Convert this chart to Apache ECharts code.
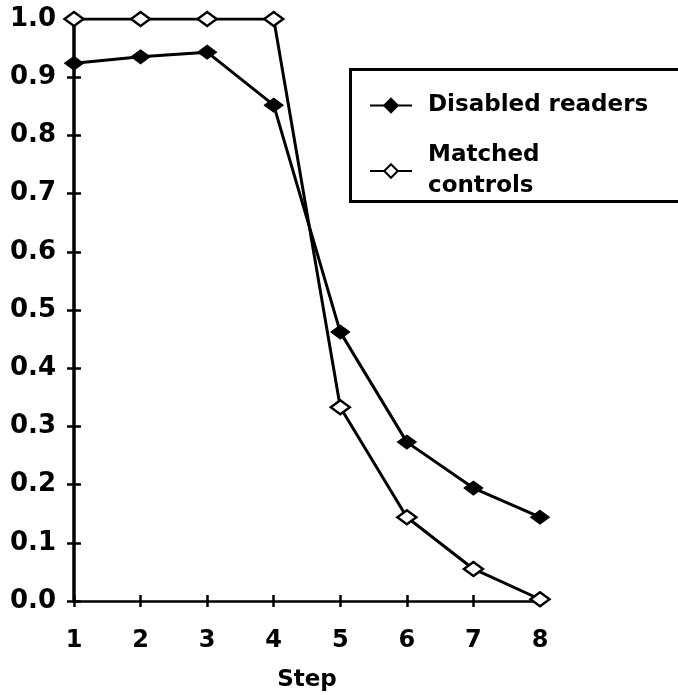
<!DOCTYPE html>
<html>
<head>
<meta charset="utf-8">
<script src="https://cdn.jsdelivr.net/npm/echarts@6/dist/echarts.min.js"></script>
<style>
html,body{margin:0;padding:0;background:#fff;}
#chart{width:678px;height:695px;}
</style>
</head>
<body>
<div id="chart"></div>
<script>
var steps = [1, 2, 3, 4, 5, 6, 7, 8];
var disabledReaders = [0.924, 0.935, 0.943, 0.852, 0.462, 0.273, 0.194, 0.144];
var matchedControls = [1.0, 1.0, 1.0, 1.0, 0.333, 0.144, 0.055, 0.003];
var seriesNames = ['Disabled readers', 'Matched controls'];
var xAxisTitle = 'Step';

function pairs(vals) {
  return steps.map(function (s, i) { return [s, vals[i]]; });
}

var font = '"DejaVu Sans", sans-serif';
var chart = echarts.init(document.getElementById('chart'));
var option = {
  backgroundColor: '#fff',
  animation: false,
  grid: { left: 74, right: 138, top: 19, bottom: 94, containLabel: false, outerBoundsMode: 'none' },
  xAxis: [{
    type: 'value', min: 1, max: 8, interval: 1,
    name: xAxisTitle, nameLocation: 'middle', nameGap: 68,
    nameTextStyle: { color: '#000', fontFamily: font, fontWeight: 'bold', fontSize: 23 },
    axisLine: { show: true, onZero: false, lineStyle: { color: '#000', width: 2.5 } },
    axisTick: { show: true, length: 6, lineStyle: { color: '#000', width: 2.5 } },
    axisLabel: { color: '#000', fontFamily: font, fontWeight: 'bold', fontSize: 24, margin: 28 },
    splitLine: { show: false }
  }, {
    type: 'value', min: 1, max: 8, interval: 1, position: 'bottom',
    axisLine: { show: false },
    axisTick: { show: true, inside: true, length: 6, lineStyle: { color: '#000', width: 2.5 } },
    axisLabel: { show: false },
    splitLine: { show: false }
  }],
  yAxis: [{
    type: 'value', min: 0, max: 1, interval: 0.1,
    axisLine: { show: true, onZero: false, lineStyle: { color: '#000', width: 3.5 } },
    axisTick: { show: true, length: 7, lineStyle: { color: '#000', width: 2.5 } },
    axisLabel: {
      color: '#000', fontFamily: font, fontWeight: 'bold', fontSize: 26, margin: 18,
      formatter: function (v) { return v.toFixed(1); }
    },
    splitLine: { show: false }
  }, {
    type: 'value', min: 0, max: 1, interval: 0.1, position: 'left',
    axisLine: { show: false },
    axisTick: { show: true, inside: true, length: 7, lineStyle: { color: '#000', width: 2.5 } },
    axisLabel: { show: false },
    splitLine: { show: false }
  }],
  legend: {
    orient: 'vertical',
    left: 364, top: 85,
    itemWidth: 42, itemHeight: 17, itemGap: 19,
    data: seriesNames,
    formatter: function (n) { return n === 'Matched controls' ? 'Matched\ncontrols' : n; },
    textStyle: { color: '#000', fontFamily: font, fontWeight: 'bold', fontSize: 23, lineHeight: 31, padding: [0, 0, 0, 11] }
  },
  graphic: [{
    type: 'rect', left: 348, top: 67,
    shape: { width: 340, height: 132 },
    style: { fill: 'none', stroke: '#000', lineWidth: 3 },
    z: 100
  }],
  series: [{
    name: seriesNames[0], type: 'line',
    data: pairs(disabledReaders),
    symbol: 'diamond', symbolSize: [19, 14],
    itemStyle: { color: '#000', borderColor: '#000', borderWidth: 1 },
    lineStyle: { color: '#000', width: 3 },
    z: 3
  }, {
    name: seriesNames[1], type: 'line',
    data: pairs(matchedControls),
    symbol: 'diamond', symbolSize: [19, 14], showAllSymbol: true,
    itemStyle: { color: '#fff', borderColor: '#000', borderWidth: 2.5 },
    lineStyle: { color: '#000', width: 3 },
    z: 4
  }]
};
chart.setOption(option);
</script>
</body>
</html>
